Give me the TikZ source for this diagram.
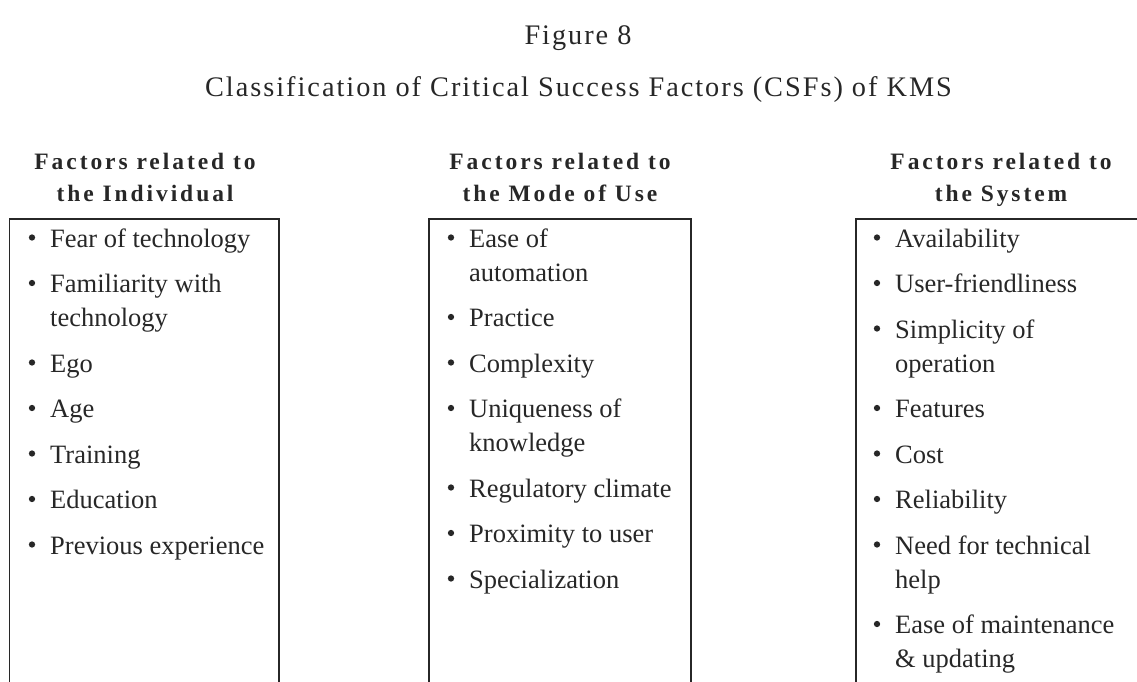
\documentclass[tikz,border=0pt]{standalone}
\usepackage{fontspec}
\setmainfont{Liberation Serif}
\newfontfamily\maintitlefont[LetterSpace=7]{Liberation Serif}
\newfontfamily\headfont[LetterSpace=12.5]{Liberation Serif}
\definecolor{ink}{HTML}{272727}
\tikzset{
  itemtext/.style={anchor=base west, inner sep=0pt, text=ink, font=\fontsize{26.5}{26.5}\selectfont},
  headtext/.style={anchor=base, inner sep=0pt, text=ink, font=\headfont\bfseries\fontsize{23.5}{23.5}\selectfont},
  titletext/.style={anchor=base, inner sep=0pt, text=ink, font=\maintitlefont\fontsize{28.3}{28.3}\selectfont},
  bulletdot/.style={circle, fill=ink, draw=none, inner sep=0pt, minimum size=6.3pt},
  boxline/.style={draw=ink, line width=1.5pt},
}
\newcommand{\csfitem}[4]{% name, x, baseline y, text
  \node[bulletdot] (#1b) at (#2-18,#3-9.5) {};
  \node[itemtext] (#1) at (#2,#3) {#4};
}
\newcommand{\csfline}[4]{% continuation line
  \node[itemtext] (#1) at (#2,#3) {#4};
}
\begin{document}
\begin{tikzpicture}[x=1pt,y=-1pt]
\useasboundingbox (0,0) rectangle (1137,682);
\fill[white] (0,0) rectangle (1137,682);

% titles
\node[titletext] (fig) at (578,45) {Figure 8};
\node[titletext] (cls) at (578.5,97) {Classification of Critical Success Factors (CSFs) of KMS};

% column heads
\node[headtext] (h1a) at (145,169.5) {Factors related to};
\node[headtext] (h1b) at (145,201) {the Individual};
\node[headtext] (h2a) at (560,169.5) {Factors related to};
\node[headtext] (h2b) at (560,201) {the Mode of Use};
\node[headtext] (h3a) at (1001,169.5) {Factors related to};
\node[headtext] (h3b) at (1001,201) {the System};

% boxes (open at the bottom, the third runs off the right edge)
\draw[boxline] (9.5,682) -- (9.5,219) -- (279,219) -- (279,682);
\draw[boxline] (429,682) -- (429,219) -- (691,219) -- (691,682);
\draw[boxline] (856,682) -- (856,219) -- (1138,219);

% column 1
\csfitem{a1}{50}{247}{Fear of technology}
\csfitem{a2}{50}{292.5}{Familiarity with}
\csfline{a2c}{50}{326.5}{technology}
\csfitem{a3}{50}{372}{Ego}
\csfitem{a4}{50}{417.5}{Age}
\csfitem{a5}{50}{463}{Training}
\csfitem{a6}{50}{508.5}{Education}
\csfitem{a7}{50}{554}{Previous experience}

% column 2
\csfitem{b1}{469}{247}{Ease of}
\csfline{b1c}{469}{281}{automation}
\csfitem{b2}{469}{326.5}{Practice}
\csfitem{b3}{469}{372}{Complexity}
\csfitem{b4}{469}{417.5}{Uniqueness of}
\csfline{b4c}{469}{451.5}{knowledge}
\csfitem{b5}{469}{497}{Regulatory climate}
\csfitem{b6}{469}{542.5}{Proximity to user}
\csfitem{b7}{469}{588}{Specialization}

% column 3
\csfitem{c1}{895}{247}{Availability}
\csfitem{c2}{895}{292.5}{User-friendliness}
\csfitem{c3}{895}{338}{Simplicity of}
\csfline{c3c}{895}{372}{operation}
\csfitem{c4}{895}{417.5}{Features}
\csfitem{c5}{895}{463}{Cost}
\csfitem{c6}{895}{508.5}{Reliability}
\csfitem{c7}{895}{554}{Need for technical}
\csfline{c7c}{895}{588}{help}
\csfitem{c8}{895}{633.5}{Ease of maintenance}
\csfline{c8c}{895}{667.5}{\& updating}
\end{tikzpicture}
\end{document}
